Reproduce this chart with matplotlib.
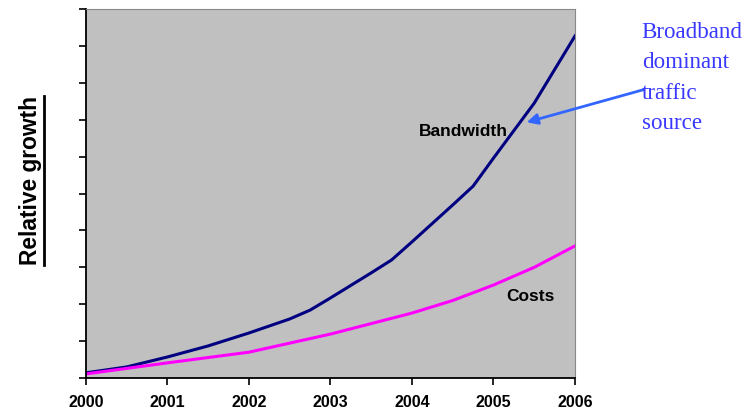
import matplotlib.pyplot as plt
from matplotlib.lines import Line2D

plt.rcParams['font.family'] = ['Liberation Sans', 'DejaVu Sans']

# values (arbitrary relative units, 0-10 scale)
bw_years = [2000, 2000.5, 2001, 2001.5, 2002, 2002.5, 2002.75, 2003, 2003.5,
            2003.75, 2004, 2004.5, 2004.75, 2005, 2005.5, 2006]
bandwidth = [0.14, 0.30, 0.57, 0.87, 1.22, 1.60, 1.84, 2.17, 2.85,
             3.20, 3.69, 4.69, 5.20, 5.96, 7.45, 9.27]
cost_years = [2000, 2001, 2002, 2003, 2004, 2004.5, 2005, 2005.5, 2006]
costs = [0.11, 0.41, 0.70, 1.19, 1.76, 2.10, 2.52, 3.00, 3.58]
year_ticks = [2000, 2001, 2002, 2003, 2004, 2005, 2006]

fig = plt.figure(figsize=(7.54, 4.11), dpi=100)
ax = fig.add_axes([0.114, 0.0803, 0.6486, 0.8977])
ax.set_facecolor('#c0c0c0')

ax.plot(bw_years, bandwidth, color='#000080', lw=2.2)
ax.plot(cost_years, costs, color='#ff00ff', lw=2.2)

ax.set_xlim(2000, 2006)
ax.set_ylim(0, 10)
ax.set_xticks(year_ticks)
ax.set_xticklabels([str(y) for y in year_ticks], fontweight='bold', fontsize=11.5)
ax.set_yticks(range(11))
ax.set_yticklabels([])
ax.tick_params(axis='both', direction='out', length=5, width=1.2, color='black')
ax.tick_params(axis='x', pad=7)
for s in ['left', 'bottom']:
    ax.spines[s].set_linewidth(1.3)
for s in ['top', 'right']:
    ax.spines[s].set_color('#888888')

ax.text(2004.63, 6.67, 'Bandwidth', fontweight='bold', fontsize=12.5, ha='center', va='center')
ax.text(2005.45, 2.2, 'Costs', fontweight='bold', fontsize=12.5, ha='center', va='center')

ylab = fig.text(0.041, 0.56, 'Relative growth', rotation=90, fontweight='bold',
                fontsize=16.4, ha='center', va='center')
# underline for the rotated label
fig.canvas.draw()
bb = ylab.get_window_extent().transformed(fig.transFigure.inverted())
ux = bb.x1 + 1.5 / 754
fig.add_artist(Line2D([ux, ux], [bb.y0, bb.y1], transform=fig.transFigure,
                      color='black', lw=2))

note_color = '#3838ff'
for i, w in enumerate(['Broadband', 'dominant', 'traffic', 'source']):
    fig.text(0.851, 1 - (32 + 30.5 * i) / 411, w, family='Liberation Serif',
             fontsize=16.6, color=note_color, ha='left', va='center')

ax.annotate('', xy=(524 / 754, 1 - 123 / 411), xycoords='figure fraction',
            xytext=(646 / 754, 1 - 89 / 411), textcoords='figure fraction',
            arrowprops=dict(arrowstyle='-|>', color='#3366ff', lw=2,
                            mutation_scale=16))

fig.savefig('out.png', dpi=100)
